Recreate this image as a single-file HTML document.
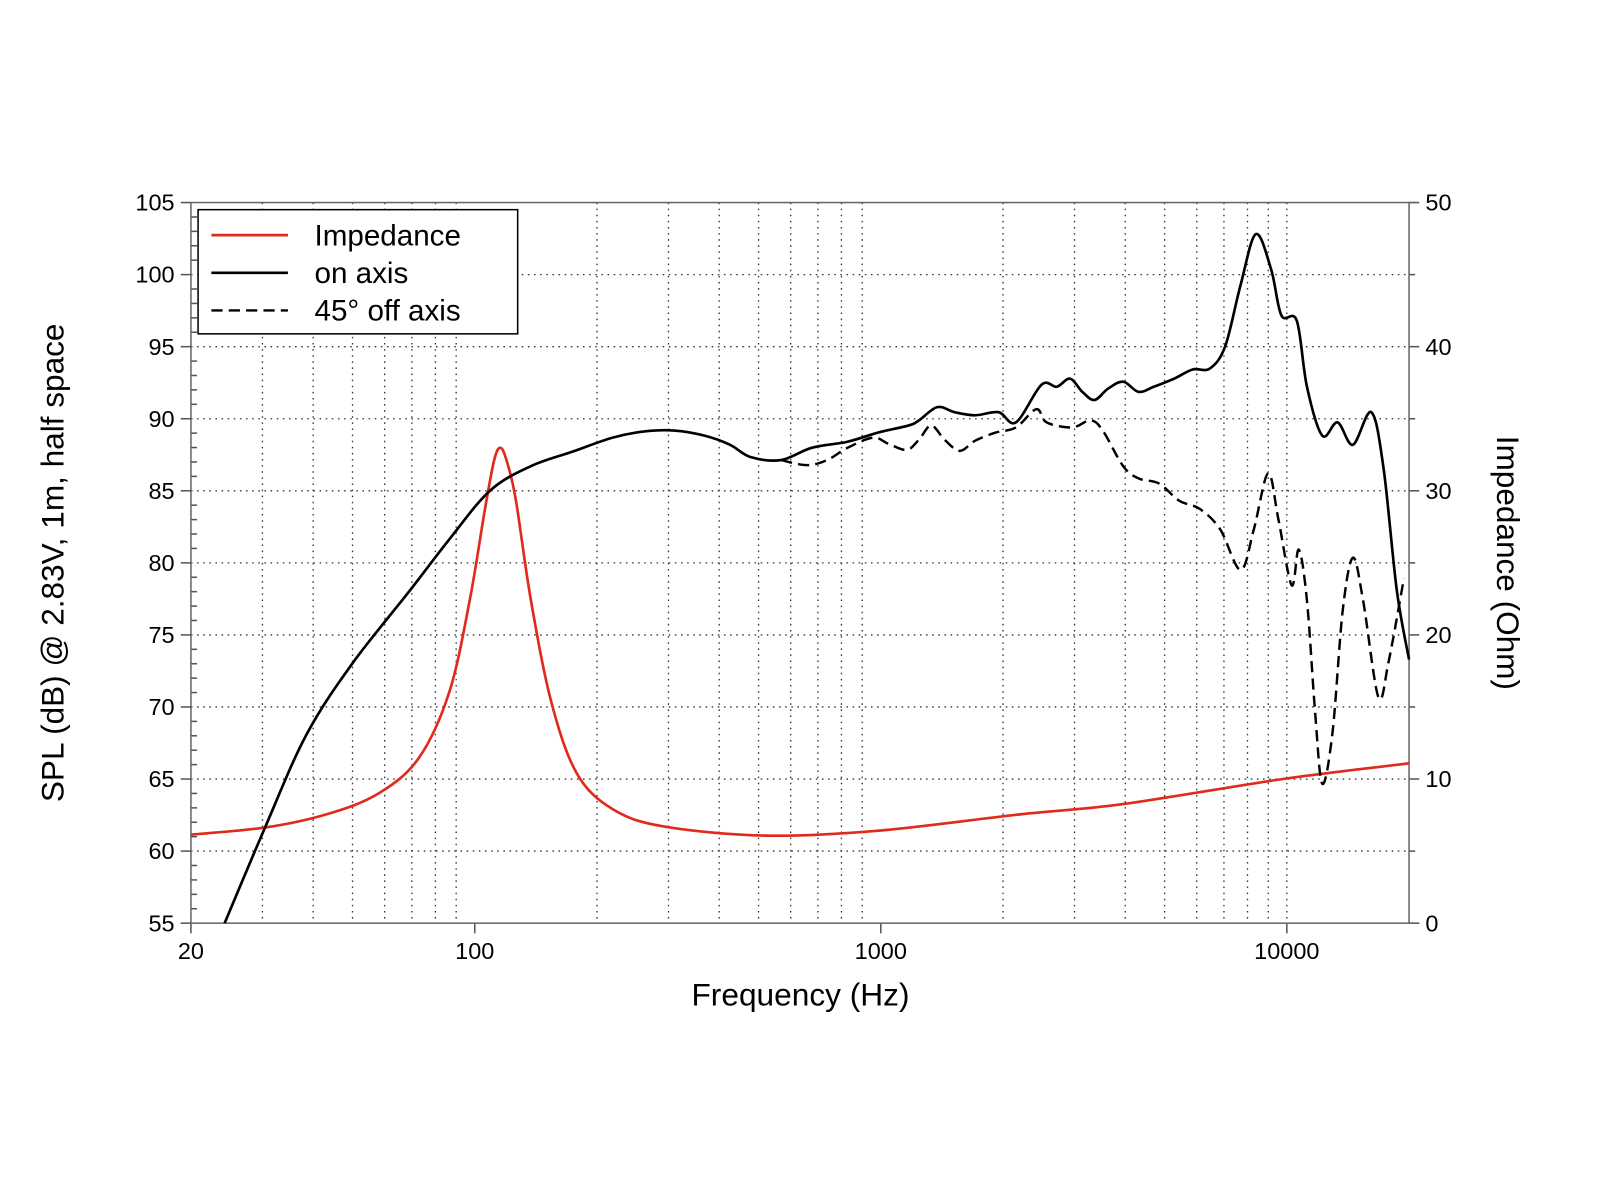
<!DOCTYPE html>
<html><head><meta charset="utf-8"><style>
html,body{margin:0;padding:0;background:#fff}
svg{display:block}
text{font-family:"Liberation Sans",Arial,sans-serif;fill:#000}
</style></head><body>
<svg id="s" width="1600" height="1200" viewBox="0 0 1567 1179" preserveAspectRatio="none" xmlns="http://www.w3.org/2000/svg">
<g id="grid" stroke="#333" stroke-width="1.3" stroke-dasharray="1.5,4.5" fill="none"></g>
<g id="ticks" stroke="#555" stroke-width="1.5" fill="none"></g>
<rect x="187" y="199" width="1193" height="708" fill="none" stroke="#666" stroke-width="1.5"/>
<line x1="1380" y1="199" x2="1388" y2="199" stroke="#666" stroke-width="1.5"/>
<path id="red" fill="none" stroke="#e02a1b" stroke-width="2.6"/>
<path id="on" fill="none" stroke="#000" stroke-width="2.6"/>
<path id="off" fill="none" stroke="#000" stroke-width="2.4" stroke-dasharray="11,6"/>
<rect x="194" y="206" width="313" height="122" fill="#fff" stroke="#000" stroke-width="1.5"/>
<line x1="207" y1="231" x2="282" y2="231" stroke="#e02a1b" stroke-width="2.6"/>
<line x1="207" y1="268" x2="282" y2="268" stroke="#000" stroke-width="2.6"/>
<line x1="207" y1="305" x2="282" y2="305" stroke="#000" stroke-width="2.4" stroke-dasharray="11,6"/>
<text x="308" y="241" font-size="29">Impedance</text>
<text x="308" y="278" font-size="29">on axis</text>
<text x="308" y="315" font-size="29">45° off axis</text>
<g id="labels" font-size="23"></g>
<text x="784" y="988" font-size="31" text-anchor="middle">Frequency (Hz)</text>
<text transform="translate(62,553) rotate(-90)" font-size="31" text-anchor="middle">SPL (dB) @ 2.83V, 1m, half space</text>
<text transform="translate(1466,553) rotate(90)" font-size="31" text-anchor="middle">Impedance (Ohm)</text>
</svg>
<script>
var NS="http://www.w3.org/2000/svg";
function el(p,t,a,txt){var e=document.createElementNS(NS,t);for(var k in a)e.setAttribute(k,a[k]);if(txt!=null)e.textContent=txt;document.getElementById(p).appendChild(e);}
function X(f){return 187+(Math.log10(f)-Math.log10(20))*397.67;}
function Y(db){return 199+(105-db)*14.16;}
for(var d=60;d<105;d+=5)el("grid","line",{x1:187,y1:Y(d),x2:1380,y2:Y(d)});
var fs=[30,40,50,60,70,80,90,200,300,400,500,600,700,800,900,2000,3000,4000,5000,6000,7000,8000,9000,10000];
fs.forEach(function(f){el("grid","line",{x1:X(f),y1:199,x2:X(f),y2:907});});
for(var d=55;d<=105;d++){if(d%5==0)el("ticks","line",{x1:177,y1:Y(d),x2:187,y2:Y(d)});else el("ticks","line",{x1:187,y1:Y(d),x2:193,y2:Y(d)});}
for(var d=55;d<=105;d+=5)el("labels","text",{x:171,y:Y(d)+8,"text-anchor":"end"},String(d));
for(var o=0;o<=50;o+=5){var y=907-o*14.16;el("ticks","line",{x1:1380,y1:y,x2:o%10==0?1390:1386,y2:y});if(o%10==0)el("labels","text",{x:1396,y:y+8},String(o));}
[20,100,1000,10000].forEach(function(f){el("ticks","line",{x1:X(f),y1:907,x2:X(f),y2:917});});
[[20,"20"],[100,"100"],[1000,"1000"],[10000,"10000"]].forEach(function(a){el("labels","text",{x:X(a[0]),y:942,"text-anchor":"middle"},a[1]);});
function cr(p){var s="M"+p[0][0]+","+p[0][1];for(var i=0;i<p.length-1;i++){var p0=p[i-1]||p[i],p1=p[i],p2=p[i+1],p3=p[i+2]||p2;var t=6;s+=" C"+(p1[0]+(p2[0]-p0[0])/t)+","+(p1[1]+(p2[1]-p0[1])/t)+" "+(p2[0]-(p3[0]-p1[0])/t)+","+(p2[1]-(p3[1]-p1[1])/t)+" "+p2[0]+","+p2[1];}return s;}
var on=[[220,907],[260,812],[300,722],[345,652],[400,582],[440,530],[480,482],[520,458],[560,444],[600,430],[630,424],[660,423],[690,428],[715,437],[735,449],[765,452],[795,440],[830,434],[860,425],[890,418],[900,413],[918,400],[935,405],[955,408],[978,405],[995,415],[1020,378],[1035,380],[1048,372],[1060,385],[1072,393],[1085,382],[1100,375],[1115,385],[1130,380],[1150,372],[1168,363],[1185,362],[1200,340],[1215,280],[1230,230],[1245,265],[1255,310],[1270,315],[1280,380],[1295,428],[1310,415],[1325,437],[1343,405],[1355,460],[1368,580],[1380,648]];
var off=[[765,452],[790,457],[810,452],[830,440],[855,430],[870,436],[888,442],[900,432],[912,418],[925,432],[940,443],[955,433],[975,425],[995,420],[1015,402],[1025,415],[1050,420],[1068,413],[1080,423],[1100,458],[1115,470],[1135,475],[1155,492],[1175,500],[1195,520],[1215,560],[1228,520],[1242,465],[1252,510],[1265,575],[1272,540],[1280,590],[1288,700],[1295,770],[1305,720],[1315,600],[1325,548],[1335,590],[1350,685],[1360,650],[1375,568]];
var red=[[187,820],[260,813],[320,800],[370,780],[410,745],[440,680],[460,590],[475,500],[484,452],[490,440],[496,452],[505,490],[520,590],[540,690],[565,760],[600,795],[650,812],[750,821],[862,816],[1000,800],[1100,790],[1259,765],[1380,750]];
document.getElementById("on").setAttribute("d",cr(on));
document.getElementById("off").setAttribute("d",cr(off));
document.getElementById("red").setAttribute("d",cr(red));
</script>
</body></html>
